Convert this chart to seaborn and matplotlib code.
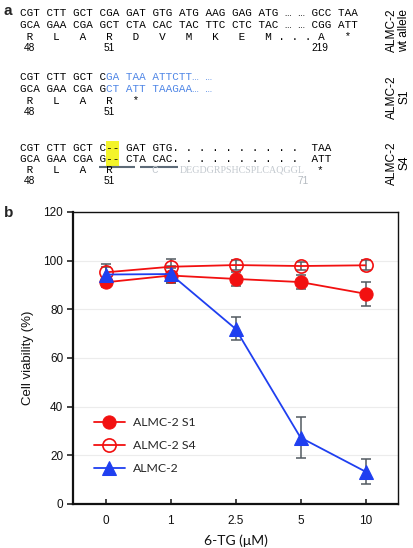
import numpy as np
import pandas as pd
import matplotlib
matplotlib.use("Agg")
import matplotlib.pyplot as plt
import seaborn as sns
from matplotlib.patches import Rectangle

# ---------------- data (panel b) ----------------
conc_labels = ["0", "1", "2.5", "5", "10"]
s1_mean = [91.1, 93.9, 92.5, 91.2, 86.4]
s1_err = [2.0, 3.0, 3.0, 3.0, 5.0]
s4_mean = [95.2, 97.5, 98.2, 97.8, 98.1]
s4_err = [2.0, 3.0, 2.0, 1.8, 2.0]
wt_mean = [94.3, 94.5, 72.0, 27.3, 13.3]
wt_err = [4.2, 3.5, 4.8, 8.5, 5.2]
series_names = ["ALMC-2 S1", "ALMC-2 S4", "ALMC-2"]
y_ticks = [0, 20, 40, 60, 80, 100, 120]

# ---------------- sequences (panel a) ----------------
wt_top = "CGT CTT GCT CGA GAT GTG ATG AAG GAG ATG \u2026 \u2026 GCC TAA"
wt_bot = "GCA GAA CGA GCT CTA CAC TAC TTC CTC TAC \u2026 \u2026 CGG ATT"
wt_aa = " R   L   A   R   D   V   M   K   E   M . . . A   *"
wt_nums = ["48", "51", "219"]
s1_top = ["CGT CTT GCT C", "GA TAA ATTCTT\u2026 \u2026"]
s1_bot = ["GCA GAA CGA G", "CT ATT TAAGAA\u2026 \u2026"]
s1_aa = " R   L   A   R   *"
s1_nums = ["48", "51"]
s4_top = "CGT CTT GCT C-- GAT GTG" + ". " * 10 + " TAA"
s4_bot = "GCA GAA CGA G-- CTA CAC" + ". " * 10 + " ATT"
s4_aa = " R   L   A   R"
s4_shift = "C"
s4_peptide = "DEGDGRPSHCSPLCAQGGL"
s4_nums = ["48", "51", "71"]
row_labels = ["ALMC-2\nwt allele", "ALMC-2\nS1", "ALMC-2\nS4"]

sns.set_theme(style="white")
plt.rcParams["font.family"] = ["Liberation Sans", "DejaVu Sans"]

W, H = 413, 548
fig = plt.figure(figsize=(W / 100, H / 100), dpi=100)

# ---------- panel a : text in pixel coordinates ----------
axa = fig.add_axes([0, 0, 1, 1])
axa.set_xlim(0, W)
axa.set_ylim(H, 0)
axa.axis("off")

mono = "Liberation Mono"
fs = 7.9
cw = fs * 100 / 72 * 0.6  # char advance in px
x0 = 20.0
def cx(i):
    return x0 + i * cw
def cc(i):
    return x0 + (i + 0.5) * cw

blue = "#4f86e6"
gray = "#c3c9cf"
ink = "#000000"

def seq(y, s, i=0, color=ink, **kw):
    axa.text(cx(i), y, s, family=mono, fontsize=fs, color=color, va="center", ha="left", **kw)

def num(y, s, i, color=ink):
    axa.text(cc(i), y, s, fontsize=7.3, color=color, va="center", ha="center")

# block 1
r = [13, 25, 37, 48]
seq(r[0], wt_top); seq(r[1], wt_bot); seq(r[2], wt_aa)
for s, i in zip(wt_nums, [1, 13, 45]):
    num(r[3], s, i)
# block 2
r = [77, 89, 101, 112]
seq(r[0], s1_top[0]); seq(r[0], s1_top[1], i=len(s1_top[0]), color=blue)
seq(r[1], s1_bot[0]); seq(r[1], s1_bot[1], i=len(s1_bot[0]), color=blue)
seq(r[2], s1_aa)
for s, i in zip(s1_nums, [1, 13]):
    num(r[3], s, i)
# block 3
r = [148, 159, 170, 181]
axa.add_patch(Rectangle((cx(13), r[0] - 7), 2 * cw, (r[1] - r[0]) + 14,
                        facecolor="#f4f42a", edgecolor="none", zorder=0))
seq(r[0], s4_top); seq(r[1], s4_bot); seq(r[2], s4_aa)
axa.plot([cx(12), cx(17.5)], [r[1] + 8, r[1] + 8], color="#5d6b78", lw=1.5, solid_capstyle="butt")
axa.plot([cx(18.3), cx(24)], [r[1] + 8, r[1] + 8], color="#5d6b78", lw=1.5, solid_capstyle="butt")
seq(r[2], s4_shift, i=20, color=gray)
axa.text(cx(24.2), r[2], s4_peptide, family="Liberation Serif", fontsize=7.2, color=gray,
         va="center", ha="left")
seq(r[2], "*", i=45)
for s, i, c in zip(s4_nums, [1, 13, 42.5], [ink, ink, "#b5bbc1"]):
    num(r[3], s, i, color=c)

# side labels
for lab, yc in zip(row_labels, [30, 97, 163]):
    axa.text(398, yc, lab, rotation=90, fontsize=8.6, ha="center", va="center",
             linespacing=1.0, color=ink)

axa.text(4, 11, "a", fontsize=11, fontweight="bold", va="center", ha="left")
axa.text(4, 213, "b", fontsize=11, fontweight="bold", va="center", ha="left")

# ---------- panel b ----------
left, right, top, bottom = 73, 398, 212, 504
ax = fig.add_axes([left / W, (H - bottom) / H, (right - left) / W, (bottom - top) / H])
ax.set_facecolor("white")
xpos = np.arange(len(conc_labels))

red = "#f21010"
bl = "#1f3ff0"
ecol = "#525a60"
for m, e in [(s1_mean, s1_err), (s4_mean, s4_err), (wt_mean, wt_err)]:
    ax.errorbar(xpos, m, yerr=e, fmt="none", ecolor=ecol, elinewidth=1.1, capsize=3.5,
                capthick=1.1, zorder=2)

sns.lineplot(x=xpos, y=s1_mean, ax=ax, color=red, marker="o", markersize=9.5, markeredgecolor=red,
             markerfacecolor=red, lw=1.3, label=series_names[0], zorder=3)
sns.lineplot(x=xpos, y=s4_mean, ax=ax, color=red, marker="o", markersize=9.5, markeredgecolor=red,
             markerfacecolor="none", markeredgewidth=1.2, lw=1.3, label=series_names[1], zorder=3)
sns.lineplot(x=xpos, y=wt_mean, ax=ax, color=bl, marker="^", markersize=9.5, markeredgecolor=bl,
             markerfacecolor=bl, lw=1.3, label=series_names[2], zorder=4)

ax.set_xlim(-0.5, len(conc_labels) - 0.5)
ax.set_ylim(0, 120)
ax.set_xticks(xpos)
ax.set_xticklabels(conc_labels, fontsize=8.5)
ax.set_yticks(y_ticks)
ax.set_yticklabels([str(t) for t in y_ticks], fontsize=8.5)
ax.yaxis.grid(True, color="#ececec", lw=0.8)
ax.xaxis.grid(False)
ax.set_axisbelow(True)
ax.tick_params(axis="y", direction="out", length=4, width=1.1, pad=3, left=True, colors="#111111")
ax.tick_params(axis="x", direction="in", length=3.5, width=1.1, pad=8, bottom=True, colors="#111111")
for side, lw in [("left", 1.6), ("bottom", 1.6), ("top", 1.0), ("right", 1.0)]:
    ax.spines[side].set_visible(True)
    ax.spines[side].set_color("#111111")
    ax.spines[side].set_linewidth(lw)

ax.set_ylabel("Cell viability (%)", fontsize=9.5, labelpad=7, color="#111111")
ax.set_xlabel("6-TG (\u03bcM)", fontsize=10, labelpad=5, color="#111111", family=["Lato", "DejaVu Sans"])

leg = ax.legend(loc="center left", bbox_to_anchor=(0.065, 0.2), frameon=False,
                handlelength=2.5, handletextpad=0.7, labelspacing=1.0, borderpad=0, borderaxespad=0,
                prop={"family": ["Lato", "DejaVu Sans"], "size": 8.8})

fig.savefig("out.png", dpi=100)
